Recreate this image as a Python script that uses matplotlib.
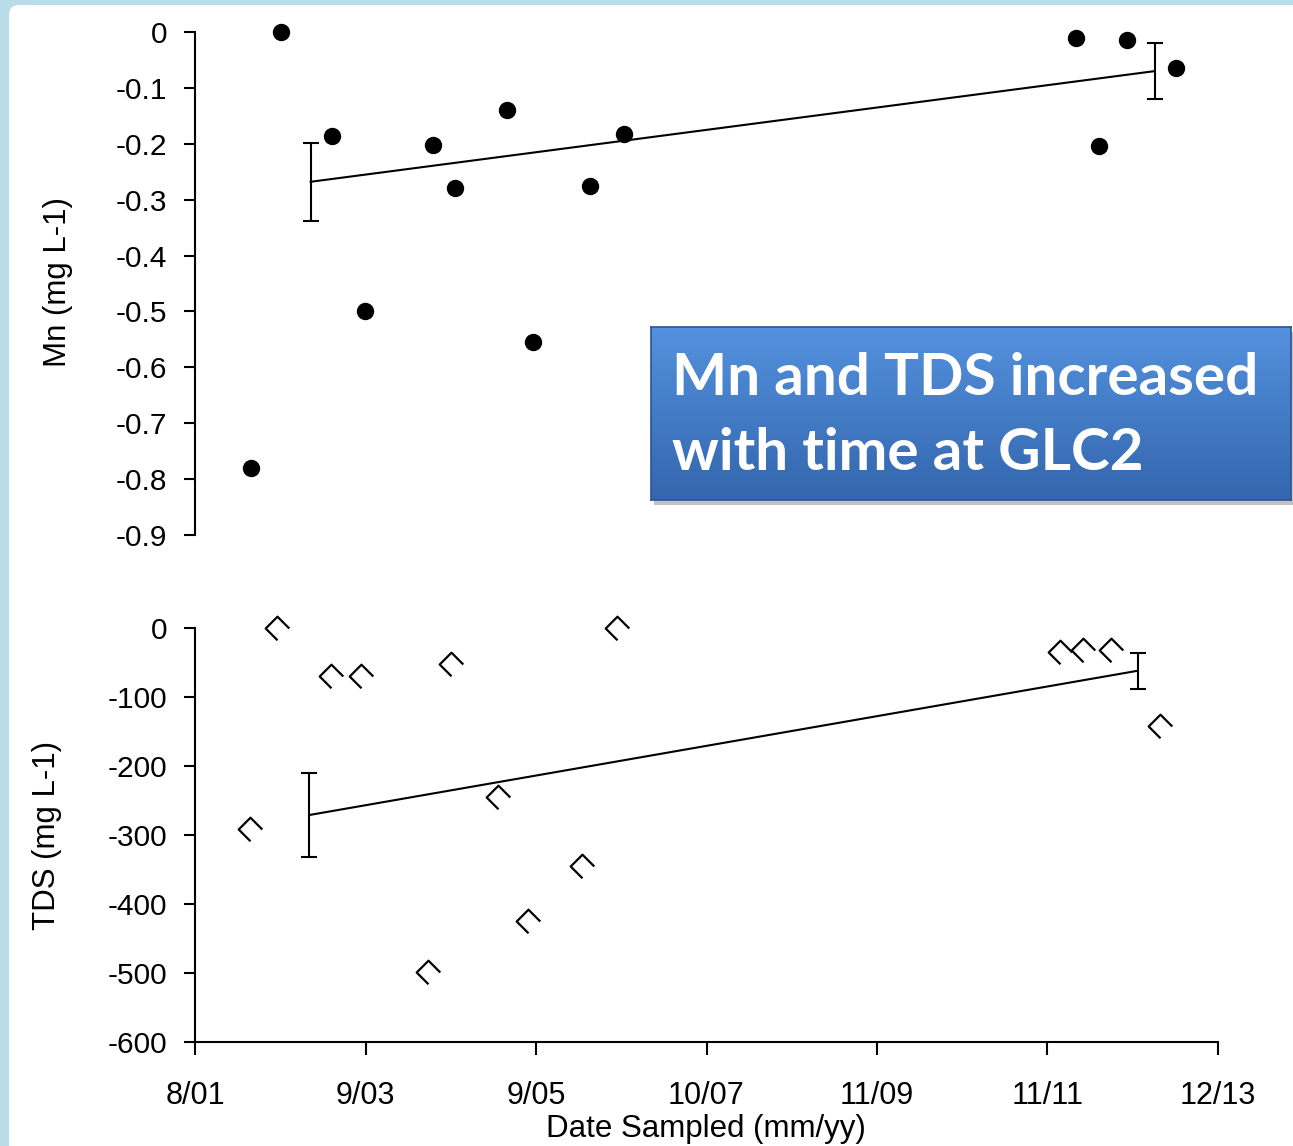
import matplotlib
matplotlib.use('Agg')
import matplotlib.pyplot as plt
import numpy as np
import pandas as pd
from matplotlib.path import Path
from matplotlib.patches import FancyBboxPatch, Rectangle
from matplotlib.ticker import FuncFormatter

plt.rcParams['font.family'] = ['Liberation Sans', 'DejaVu Sans']
plt.rcParams['axes.unicode_minus'] = False

# ---------------- data ----------------
mn_dates = ['2002-04-22', '2002-09-01', '2003-04-17', '2003-09-06', '2004-07-01',
            '2004-10-06', '2005-05-23', '2005-09-15', '2006-05-23', '2006-10-20',
            '2012-04-01', '2012-07-15', '2012-11-15', '2013-06-15']
mn_values = [-0.78, 0.0, -0.186, -0.50, -0.202, -0.279, -0.140, -0.555, -0.276, -0.183,
             -0.011, -0.204, -0.014, -0.064]
mn_trend_dates = ['2003-01-11', '2013-03-15']
mn_trend_values = [-0.268, -0.070]
mn_trend_err = [0.07, 0.05]

tds_dates = ['2002-04-17', '2002-08-14', '2003-04-09', '2003-08-23', '2004-06-09',
             '2004-09-19', '2005-04-14', '2005-08-24', '2006-04-22', '2006-09-19',
             '2012-01-25', '2012-05-02', '2012-09-03', '2013-04-06']
tds_values = [-291, 0, -70, -70, -499, -52, -245, -425, -345, 0,
              -35, -32, -32, -142]
tds_trend_dates = ['2003-01-06', '2012-12-30']
tds_trend_values = [-271, -62]
tds_trend_err = [61, 26]

x_tick_dates = ['2001-08-20', '2003-09-10', '2005-09-30', '2007-10-20',
                '2009-11-09', '2011-11-29', '2013-12-19']
x_tick_labels = ['8/01', '9/03', '9/05', '10/07', '11/09', '11/11', '12/13']
mn_ticks = [0, -0.1, -0.2, -0.3, -0.4, -0.5, -0.6, -0.7, -0.8, -0.9]
tds_ticks = [0, -100, -200, -300, -400, -500, -600]

box_lines = ['Mn and TDS increased', 'with time at GLC2']

# ---------------- figure ----------------
W, H = 1293, 1146
fig = plt.figure(figsize=(W / 100, H / 100), dpi=100)
fig.patch.set_facecolor('#b9dde8')

# white rounded panel
panel = FancyBboxPatch((0.09, -1.0), 14.0, 11.46 - 0.05 + 1.0,
                       boxstyle='round,pad=0,rounding_size=0.1',
                       transform=fig.dpi_scale_trans, facecolor='white',
                       edgecolor='none', zorder=-10)
fig.patches.append(panel)

def fx(px):
    return px / W

def fy(py):
    return 1 - py / H

xt = pd.to_datetime(x_tick_dates)
xlim = (xt[0], xt[-1])

# ---------------- top axes (Mn) ----------------
ax1 = fig.add_axes([fx(195), fy(535), fx(1218) - fx(195), fy(32) - fy(535)])
ax1.set_facecolor('none')
ax1.plot(pd.to_datetime(mn_dates), mn_values, linestyle='none', marker='o',
         markersize=11.5, color='black', clip_on=False, zorder=3)
ax1.errorbar(pd.to_datetime(mn_trend_dates), mn_trend_values, yerr=mn_trend_err,
             color='black', linewidth=1.5, elinewidth=1.5, capsize=5.5,
             capthick=1.5, clip_on=False)
ax1.set_xlim(xlim)
ax1.set_ylim(-0.9, 0)
ax1.set_yticks(mn_ticks)
ax1.yaxis.set_major_formatter(FuncFormatter(lambda v, p: '%g' % round(v, 2)))
for s in ['top', 'right', 'bottom']:
    ax1.spines[s].set_visible(False)
ax1.spines['left'].set_linewidth(1.5)
ax1.tick_params(axis='y', direction='out', length=8, width=1.5, labelsize=21.5, pad=12)
ax1.tick_params(axis='x', bottom=False, labelbottom=False)
ax1.set_ylabel('Mn (mg L-1)', fontsize=22.5)
ax1.yaxis.set_label_coords(-0.119, 0.503)

# ---------------- bottom axes (TDS) ----------------
ax2 = fig.add_axes([fx(195), fy(1042), fx(1218) - fx(195), fy(628) - fy(1042)])
ax2.set_facecolor('none')
marker_path = Path([(1, 0), (0, 1), (-1, 0), (0, -1)],
                   [Path.MOVETO, Path.LINETO, Path.LINETO, Path.LINETO])
ax2.plot(pd.to_datetime(tds_dates), tds_values, linestyle='none', marker=marker_path,
         markersize=17, markerfacecolor='none', markeredgecolor='black',
         markeredgewidth=1.6, clip_on=False, zorder=3)
ax2.errorbar(pd.to_datetime(tds_trend_dates), tds_trend_values, yerr=tds_trend_err,
             color='black', linewidth=1.5, elinewidth=1.5, capsize=5.5,
             capthick=1.5, clip_on=False)
ax2.set_xlim(xlim)
ax2.set_ylim(-600, 0)
ax2.set_yticks(tds_ticks)
ax2.set_xticks(xt)
ax2.set_xticklabels(x_tick_labels)
for s in ['top', 'right']:
    ax2.spines[s].set_visible(False)
ax2.spines['left'].set_linewidth(1.5)
ax2.spines['bottom'].set_linewidth(1.5)
ax2.tick_params(axis='y', direction='out', length=8, width=1.5, labelsize=21.5, pad=12)
ax2.tick_params(axis='x', direction='out', length=9, width=1.5, labelsize=22, pad=19)
ax2.set_ylabel('TDS (mg L-1)', fontsize=22.5)
ax2.yaxis.set_label_coords(-0.130, 0.5)
ax2.set_xlabel('Date Sampled (mm/yy)', fontsize=22.5)
ax2.xaxis.set_label_coords(0.4995, -0.174)

# ---------------- text box ----------------
bx0, bx1, by0, by1 = 651, 1291, 327, 500
# shadow
fig.patches.append(Rectangle((fx(bx0 + 3), fy(by1 + 5)), fx(bx1 - bx0), fy(by0) - fy(by1),
                             transform=fig.transFigure, facecolor='#9a9a9a',
                             edgecolor='none', alpha=0.6, zorder=-5))
axb = fig.add_axes([fx(bx0), fy(by1), fx(bx1) - fx(bx0), fy(by0) - fy(by1)])
top_c = np.array([0.33, 0.57, 0.87])
bot_c = np.array([0.20, 0.40, 0.68])
t = np.linspace(0, 1, 200)[:, None]
grad = (top_c[None, :] * (1 - t) + bot_c[None, :] * t)[:, None, :]
axb.imshow(grad, aspect='auto', extent=[0, 1, 0, 1], origin='upper')
axb.set_xlim(0, 1)
axb.set_ylim(0, 1)
axb.set_xticks([])
axb.set_yticks([])
for s in axb.spines.values():
    s.set_color('#2a5592')
    s.set_linewidth(1.2)
axb.text(0.033, 0.70, box_lines[0], transform=axb.transAxes, color='white',
         fontsize=42, fontweight='bold', family=['Lato', 'DejaVu Sans'],
         ha='left', va='center')
axb.text(0.033, 0.27, box_lines[1], transform=axb.transAxes, color='white',
         fontsize=42, fontweight='bold', family=['Lato', 'DejaVu Sans'],
         ha='left', va='center')

fig.savefig('out.png', dpi=100, facecolor=fig.get_facecolor())
